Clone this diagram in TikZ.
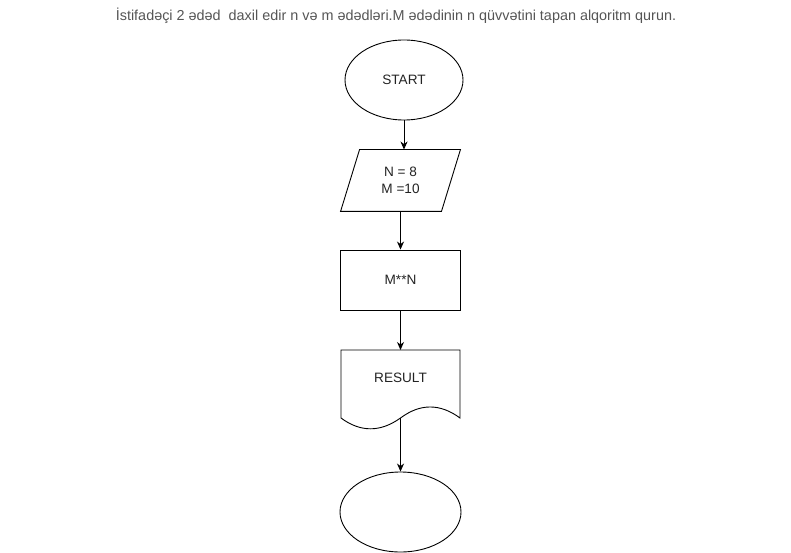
\documentclass[tikz,border=0pt]{standalone}
\usepackage{fontspec}
\setmainfont{Liberation Sans}
\usetikzlibrary{shapes.geometric,arrows.meta}
\definecolor{titlegray}{RGB}{85,85,85}
\definecolor{labelgray}{RGB}{35,35,35}
\begin{document}
\begin{tikzpicture}[x=1pt,y=-1pt,
  box/.style={draw, line width=0.9pt, inner sep=0pt, text=labelgray, font=\fontsize{13.6}{17}\selectfont, align=center},
  oval/.style={box, ellipse},
  flow/.style={-{Stealth[length=8pt,width=7pt,inset=2.5pt]}, line width=0.9pt}]

\useasboundingbox (0,0) rectangle (791,553);

\node [font=\fontsize{14.4}{16}\selectfont, text=titlegray] (title) at (396,16) {İstifadəçi 2 ədəd~ daxil edir n və m ədədləri.M ədədinin n qüvvətini tapan alqoritm qurun.};

\node [oval, minimum width=118pt, minimum height=80pt] (start) at (404,80) {START};
\node [box, draw=none, minimum width=100pt, minimum height=61pt] (inp) at (400.5,180.5) {N = 8\\M =10};
\draw [line width=0.9pt] ([xshift=9.5pt]inp.north west) -- ([xshift=9.5pt]inp.north east) -- ([xshift=-9.5pt]inp.south east) -- ([xshift=-9.5pt]inp.south west) -- cycle;
\node [box, rectangle, minimum width=120pt, minimum height=60pt] (proc) at (400.5,280) {M**N};
\draw [line width=0.9pt] (341,350) -- (460,350) -- (460,418) .. controls (440,403.3) and (420.2,403.3) .. (400.5,418) .. controls (380.3,432.4) and (360.5,432.4) .. (341,418) -- cycle;
\node [box, draw=none] (res) at (400.5,378) {RESULT};
\coordinate (resbot) at (400.5,418);
\node [oval, minimum width=121pt, minimum height=80pt] (stop) at (400.5,512) {};

\draw [flow] (start.south) -- (start.south |- inp.north);
\draw [flow] (inp) -- (proc);
\draw [flow] (proc) -- (proc.south |- 0,350);
\draw [flow] (resbot) -- (stop);
\end{tikzpicture}
\end{document}
